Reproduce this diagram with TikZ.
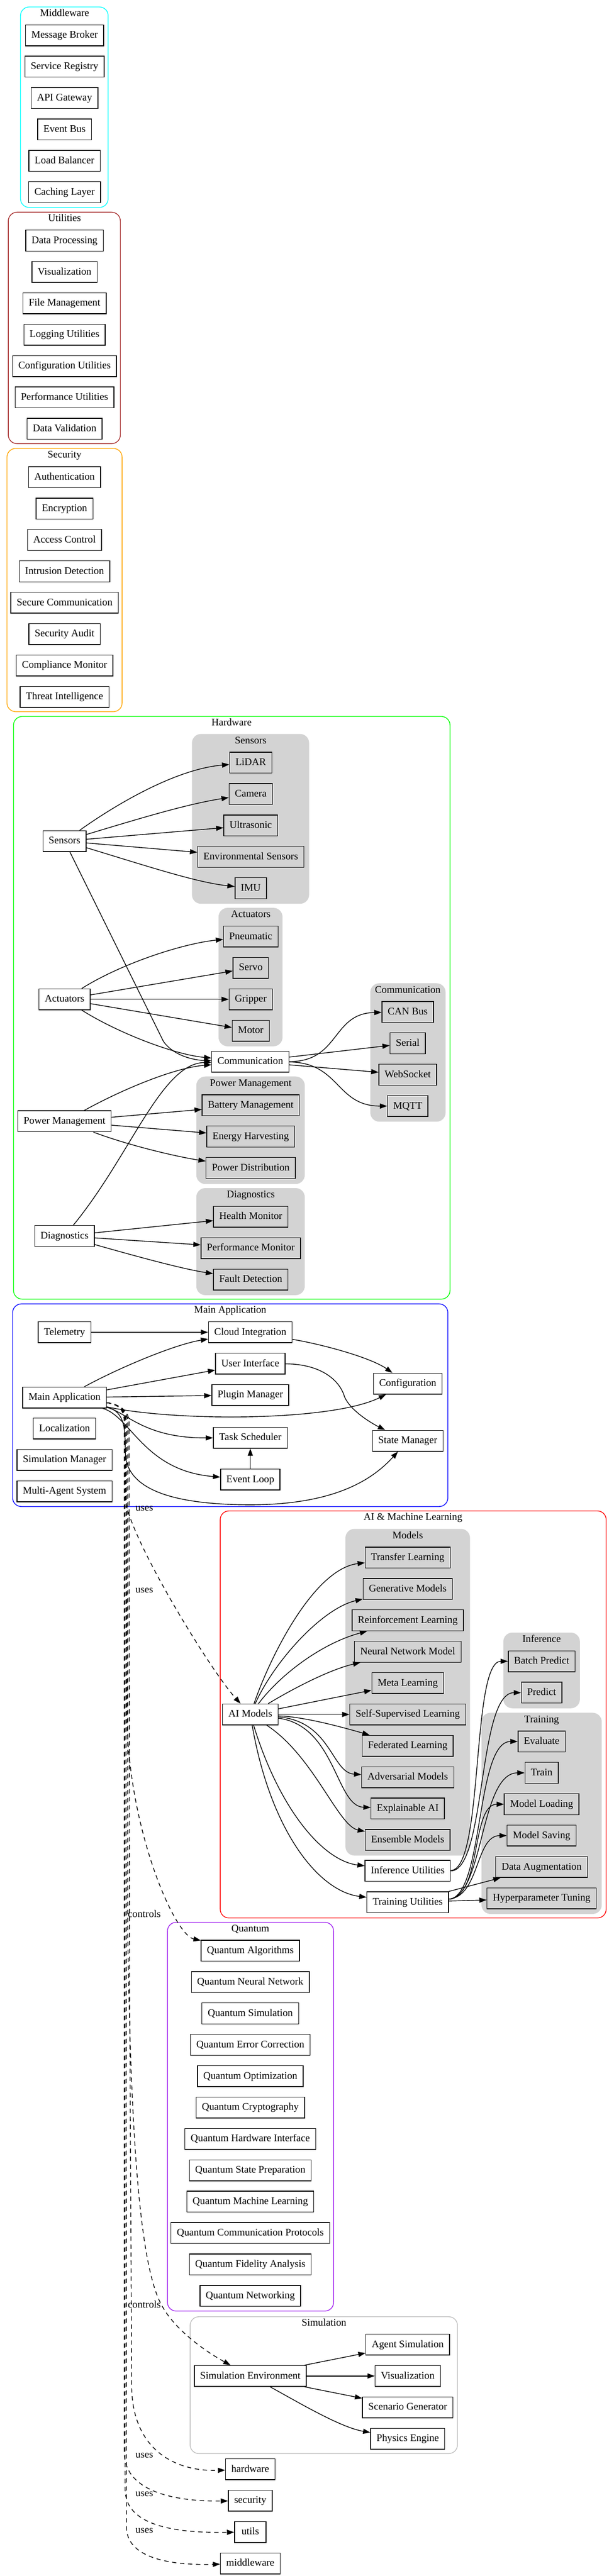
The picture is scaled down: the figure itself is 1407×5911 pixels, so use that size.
\documentclass[tikz,border=0pt]{standalone}
\usepackage{fontspec}
\setmainfont{Liberation Serif}
\usetikzlibrary{arrows.meta}
\definecolor{lgray}{HTML}{D3D3D3}
\definecolor{gvbrown}{HTML}{A52A2A}
\definecolor{gvorange}{HTML}{FFA500}
\definecolor{gvgreen}{HTML}{00FF00}
\definecolor{gvblue}{HTML}{0000FF}
\definecolor{gvred}{HTML}{FF0000}
\definecolor{gvpurple}{HTML}{A020F0}
\definecolor{gvgray}{HTML}{BEBEBE}
\definecolor{gvcyan}{HTML}{00FFFF}
\newcommand\gvfont{\fontsize{14pt}{16pt}\selectfont}
\begin{document}
\begin{tikzpicture}[x=0.6pt,y=-0.6pt,
  nd/.style={draw, line width=1pt, minimum height=28.8pt, minimum width=43.2pt, inner xsep=8pt, inner ysep=0pt, text height=11pt, text depth=3.6pt, font=\gvfont},
  gnd/.style={nd, fill=lgray},
  clus/.style={line width=1pt, rounded corners=12pt},
  subclus/.style={fill=lgray, draw=lgray, line width=1pt, rounded corners=12pt},
  ttl/.style={inner sep=0pt, text height=11pt, text depth=3.6pt, font=\gvfont},
  lbl/.style={inner sep=0pt, text height=11pt, text depth=3.6pt, font=\gvfont},
  edge/.style={line width=1pt, -{Triangle[length=10pt,width=7pt]}},
  dedge/.style={edge, dash pattern=on 6pt off 5pt}]
\useasboundingbox (0,0) rectangle (1407,5911);
\fill[white] (0,0) rectangle (1407,5911);

% ---------------- clusters ----------------
\draw[clus, gvcyan] (47,16) rectangle (248,476);
\node[ttl] (tmw) at (148,31) {Middleware};
\draw[clus, gvbrown] (19,487) rectangle (276,1018);
\node[ttl] (tut) at (148,502) {Utilities};
\draw[clus, gvorange] (16,1029) rectangle (280,1633);
\node[ttl] (tsec) at (148,1044) {Security};
\draw[clus, gvgreen] (31,1644) rectangle (1032,2981);
\node[ttl] (thw) at (531,1659) {Hardware};
\draw[subclus] (441,1685) rectangle (708,2073);
\node[ttl] (tsens) at (575,1700) {Sensors};
\draw[subclus] (502,2084) rectangle (647,2400);
\node[ttl] (tact) at (575,2099) {Actuators};
\draw[subclus] (850,2257) rectangle (1021,2573);
\node[ttl] (tcomm) at (935,2272) {Communication};
\draw[subclus] (451,2471) rectangle (698,2716);
\node[ttl] (tpow) at (575,2486) {Power Management};
\draw[subclus] (451,2727) rectangle (698,2971);
\node[ttl] (tdiag) at (575,2742) {Diagnostics};
\draw[clus, gvblue] (29,2992) rectangle (1027,3457);
\node[ttl] (tmain) at (528,3007) {Main Application};
\draw[clus, gvred] (505,3467) rectangle (1390,4401);
\node[ttl] (tai) at (947,3482) {AI \& Machine Learning};
\draw[subclus] (793,3509) rectangle (1077,4257);
\node[ttl] (tmod) at (935,3524) {Models};
\draw[subclus] (1155,3747) rectangle (1329,3919);
\node[ttl] (tinf) at (1242,3762) {Inference};
\draw[subclus] (1105,3931) rectangle (1379,4391);
\node[ttl] (ttrain) at (1242,3946) {Training};
\draw[clus, gvpurple] (384,4411) rectangle (765,5303);
\node[ttl] (tq) at (574,4426) {Quantum};
\draw[clus, gvgray] (436,5316) rectangle (1049,5630);
\node[ttl] (tsim) at (743,5331) {Simulation};

% ---------------- Middleware ----------------
\node[nd] (mb) at (148,81) {Message Broker};
\node[nd] (sr) at (148,153) {Service Registry};
\node[nd] (apig) at (148,225) {API Gateway};
\node[nd] (evb) at (148,297) {Event Bus};
\node[nd] (lbal) at (148,369) {Load Balancer};
\node[nd] (cachel) at (148,441) {Caching Layer};
% ---------------- Utilities ----------------
\node[nd] (dproc) at (148,552) {Data Processing};
\node[nd] (uviz) at (148,624) {Visualization};
\node[nd] (fmgmt) at (148,696) {File Management};
\node[nd] (logu) at (148,768) {Logging Utilities};
\node[nd] (confu) at (148,840) {Configuration Utilities};
\node[nd] (perfu) at (148,912) {Performance Utilities};
\node[nd] (dval) at (148,984) {Data Validation};
% ---------------- Security ----------------
\node[nd] (auth) at (148,1095) {Authentication};
\node[nd] (encr) at (148,1167) {Encryption};
\node[nd] (acc) at (148,1239) {Access Control};
\node[nd] (intr) at (148,1311) {Intrusion Detection};
\node[nd] (secc) at (148,1383) {Secure Communication};
\node[nd] (seca) at (148,1455) {Security Audit};
\node[nd] (compm) at (148,1527) {Compliance Monitor};
\node[nd] (threat) at (148,1599) {Threat Intelligence};

% ---------------- Hardware ----------------
\node[nd] (sensors) at (148,1930) {Sensors};
\node[gnd] (lidar) at (575,1750) {LiDAR};
\node[gnd] (camera) at (575,1822) {Camera};
\node[gnd] (ultra) at (575,1894) {Ultrasonic};
\node[gnd] (envs) at (575,1966) {Environmental Sensors};
\node[gnd] (imu) at (575,2038) {IMU};
\node[nd] (actuators) at (148,2293) {Actuators};
\node[gnd] (pneu) at (575,2149) {Pneumatic};
\node[gnd] (servo) at (575,2221) {Servo};
\node[gnd] (gripper) at (575,2293) {Gripper};
\node[gnd] (motor) at (575,2365) {Motor};
\node[nd, fill=white] (comm) at (574,2436) {Communication};
\node[gnd] (canbus) at (935,2322) {CAN Bus};
\node[gnd] (serial) at (935,2394) {Serial};
\node[gnd] (websock) at (935,2466) {WebSocket};
\node[gnd] (mqtt) at (935,2538) {MQTT};
\node[nd] (power) at (148,2573) {Power Management};
\node[gnd] (batm) at (575,2536) {Battery Management};
\node[gnd] (energy) at (575,2608) {Energy Harvesting};
\node[gnd] (pdist) at (575,2680) {Power Distribution};
\node[nd] (diag) at (148,2836) {Diagnostics};
\node[gnd] (health) at (575,2792) {Health Monitor};
\node[gnd] (perfm) at (575,2864) {Performance Monitor};
\node[gnd] (fault) at (575,2936) {Fault Detection};

% ---------------- Main Application ----------------
\node[nd] (tele) at (148,3057) {Telemetry};
\node[nd] (cloud) at (574,3057) {Cloud Integration};
\node[nd] (ui) at (574,3129) {User Interface};
\node[nd] (conf) at (935,3175) {Configuration};
\node[nd] (main) at (148,3207) {Main Application};
\node[nd] (plugin) at (574,3201) {Plugin Manager};
\node[nd] (loc) at (148,3278) {Localization};
\node[nd] (tasks) at (574,3299) {Task Scheduler};
\node[nd] (statem) at (935,3306) {State Manager};
\node[nd] (simm) at (148,3350) {Simulation Manager};
\node[nd] (evloop) at (574,3395) {Event Loop};
\node[nd] (mas) at (148,3422) {Multi-Agent System};

% ---------------- AI ----------------
\node[nd] (aim) at (574,3934) {AI Models};
\node[gnd] (transfer) at (935,3574) {Transfer Learning};
\node[gnd] (genm) at (935,3646) {Generative Models};
\node[gnd] (reinf) at (935,3718) {Reinforcement Learning};
\node[gnd] (nnm) at (935,3790) {Neural Network Model};
\node[gnd] (meta) at (935,3862) {Meta Learning};
\node[gnd] (selfs) at (935,3934) {Self-Supervised Learning};
\node[gnd] (fedl) at (935,4006) {Federated Learning};
\node[gnd] (advm) at (935,4078) {Adversarial Models};
\node[gnd] (xai) at (935,4150) {Explainable AI};
\node[gnd] (ensm) at (935,4222) {Ensemble Models};
\node[nd, fill=white] (infu) at (935,4293) {Inference Utilities};
\node[nd, fill=white] (tru) at (935,4365) {Training Utilities};
\node[gnd] (batchp) at (1242,3812) {Batch Predict};
\node[gnd] (pred) at (1242,3884) {Predict};
\node[gnd] (evalu) at (1242,3996) {Evaluate};
\node[gnd] (train) at (1242,4068) {Train};
\node[gnd] (mload) at (1242,4140) {Model Loading};
\node[gnd] (msave) at (1242,4212) {Model Saving};
\node[gnd] (daug) at (1242,4284) {Data Augmentation};
\node[gnd] (hyper) at (1242,4356) {Hyperparameter Tuning};

% ---------------- Quantum ----------------
\node[nd] (qalg) at (574,4476) {Quantum Algorithms};
\node[nd] (qnn) at (574,4548) {Quantum Neural Network};
\node[nd] (qsim) at (574,4620) {Quantum Simulation};
\node[nd] (qec) at (574,4692) {Quantum Error Correction};
\node[nd] (qopt) at (574,4764) {Quantum Optimization};
\node[nd] (qcrypt) at (574,4836) {Quantum Cryptography};
\node[nd] (qhw) at (574,4908) {Quantum Hardware Interface};
\node[nd] (qsp) at (574,4980) {Quantum State Preparation};
\node[nd] (qml) at (574,5052) {Quantum Machine Learning};
\node[nd] (qcp) at (574,5124) {Quantum Communication Protocols};
\node[nd] (qfa) at (574,5196) {Quantum Fidelity Analysis};
\node[nd] (qnet) at (574,5268) {Quantum Networking};

% ---------------- Simulation ----------------
\node[nd] (simenv) at (574,5452) {Simulation Environment};
\node[nd] (agents) at (935,5380) {Agent Simulation};
\node[nd] (sviz) at (935,5452) {Visualization};
\node[nd] (scen) at (935,5524) {Scenario Generator};
\node[nd] (phys) at (935,5596) {Physics Engine};

% ---------------- bottom modules ----------------
\node[nd] (hwmod) at (574,5666) {hardware};
\node[nd] (secmod) at (574,5738) {security};
\node[nd] (utmod) at (574,5810) {utils};
\node[nd] (mwmod) at (574,5882) {middleware};

% ---------------- edge labels ----------------
\node[lbl] (l1) at (331,3461) {uses};
\node[lbl] (l2) at (331,3649) {uses};
\node[lbl] (l3) at (331,4393) {controls};
\node[lbl] (l4) at (331,5289) {controls};
\node[lbl] (l5) at (331,5633) {uses};
\node[lbl] (l6) at (331,5722) {uses};
\node[lbl] (l7) at (331,5806) {uses};

% ---------------- hardware edges ----------------
\draw[edge] (sensors) .. controls (260,1850) and (400,1765) .. (lidar);
\draw[edge] (sensors) .. controls (330,1875) and (430,1845) .. (camera);
\draw[edge] (sensors) -- (ultra);
\draw[edge] (sensors) -- (envs);
\draw[edge] (sensors) .. controls (330,1985) and (450,2025) .. (imu);
\draw[edge] (sensors) -- (375,2390) .. controls (400,2425) and (450,2433) .. (comm);
\draw[edge] (actuators) .. controls (280,2210) and (420,2165) .. (pneu);
\draw[edge] (actuators) -- (servo);
\draw[edge] (actuators) -- (gripper);
\draw[edge] (actuators) -- (motor);
\draw[edge] (actuators) .. controls (270,2370) and (400,2420) .. (comm);
\draw[edge] (power) .. controls (280,2500) and (400,2450) .. (comm);
\draw[edge] (power) -- (batm);
\draw[edge] (power) -- (energy);
\draw[edge] (power) .. controls (300,2630) and (410,2655) .. (pdist);
\draw[edge] (diag) .. controls (300,2650) and (370,2440) .. (comm);
\draw[edge] (diag) -- (health);
\draw[edge] (diag) -- (perfm);
\draw[edge] (diag) .. controls (320,2885) and (420,2912) .. (fault);
\draw[edge] (comm) .. controls (780,2436) and (760,2325) .. (canbus);
\draw[edge] (comm) -- (serial);
\draw[edge] (comm) -- (websock);
\draw[edge] (comm) .. controls (780,2438) and (770,2538) .. (mqtt);

% ---------------- main application edges ----------------
\draw[edge] (tele) -- (cloud);
\draw[edge] (main) .. controls (270,3140) and (400,3085) .. (cloud);
\draw[edge] (main) -- (ui);
\draw[edge] (main) -- (plugin);
\draw[edge] (main) .. controls (400,3262) and (760,3262) .. (conf);
\draw[edge] (main) .. controls (290,3240) and (330,3300) .. (tasks);
\draw[edge] (main) .. controls (300,3250) and (330,3375) .. (evloop);
\draw[edge] (main) .. controls (295,3240) and (285,3300) .. (288,3345) .. controls (300,3420) and (400,3452) .. (571,3453) .. controls (760,3453) and (850,3400) .. (statem);
\draw[edge] (cloud) .. controls (740,3085) and (850,3115) .. (conf);
\draw[edge] (ui) .. controls (740,3130) and (780,3170) .. (790,3205) .. controls (805,3240) and (860,3270) .. (statem);
\draw[edge] (evloop) -- (tasks);

% ---------------- AI edges ----------------
\draw[edge] (aim) .. controls (620,3800) and (720,3600) .. (transfer);
\draw[edge] (aim) .. controls (630,3810) and (740,3690) .. (genm);
\draw[edge] (aim) .. controls (645,3840) and (740,3770) .. (reinf);
\draw[edge] (aim) .. controls (680,3870) and (760,3830) .. (nnm);
\draw[edge] (aim) -- (meta);
\draw[edge] (aim) -- (selfs);
\draw[edge] (aim) .. controls (700,3940) and (780,3962) .. (fedl);
\draw[edge] (aim) .. controls (760,3950) and (760,4068) .. (advm);
\draw[edge] (aim) .. controls (770,3960) and (770,4145) .. (xai);
\draw[edge] (aim) .. controls (720,4030) and (775,4190) .. (ensm);
\draw[edge] (aim) .. controls (640,4150) and (740,4270) .. (infu);
\draw[edge] (aim) .. controls (620,4200) and (730,4340) .. (tru);
\draw[edge] (infu) .. controls (1110,4291) and (1080,3812) .. (batchp);
\draw[edge] (infu) .. controls (1115,4293) and (1095,3884) .. (pred);
\draw[edge] (tru) .. controls (1110,4352) and (1090,3996) .. (evalu);
\draw[edge] (tru) .. controls (1110,4352) and (1100,4068) .. (train);
\draw[edge] (tru) .. controls (1105,4352) and (1080,4140) .. (mload);
\draw[edge] (tru) .. controls (1100,4352) and (1090,4212) .. (msave);
\draw[edge] (tru) -- (daug);
\draw[edge] (tru) -- (hyper);

% ---------------- simulation edges ----------------
\draw[edge] (simenv) -- (agents);
\draw[edge] (simenv) -- (sviz);
\draw[edge] (simenv) -- (scen);
\draw[edge] (simenv) .. controls (680,5510) and (780,5570) .. (phys);

% ---------------- dashed dependency edges ----------------
\draw[dedge] (main) .. controls (272,3222) and (287,3235) .. (287,3265) -- (288,3440) .. controls (292,3520) and (480,3830) .. (aim);
\draw[dedge] (main) .. controls (272,3222) and (290,3235) .. (290,3265) -- (291,3940) .. controls (295,4200) and (400,4440) .. (qalg);
\draw[dedge] (main) .. controls (272,3222) and (293,3235) .. (293,3265) -- (293,4440) .. controls (300,4900) and (320,5200) .. (371,5290) .. controls (400,5345) and (470,5395) .. (simenv);
\draw[dedge] (main) .. controls (272,3222) and (296,3235) .. (296,3265) -- (297,4500) -- (302,5480) .. controls (305,5620) and (400,5672) .. (hwmod);
\draw[dedge] (main) .. controls (272,3222) and (285,3235) .. (285,3265) -- (285,5630) .. controls (288,5725) and (420,5740) .. (secmod);
\draw[dedge] (main) .. controls (272,3222) and (287,3235) .. (287,3265) -- (287,5715) .. controls (290,5805) and (430,5812) .. (utmod);
\draw[dedge] (main) .. controls (272,3222) and (289,3235) .. (289,3265) -- (290,5800) .. controls (292,5880) and (420,5886) .. (mwmod);
\end{tikzpicture}
\end{document}
